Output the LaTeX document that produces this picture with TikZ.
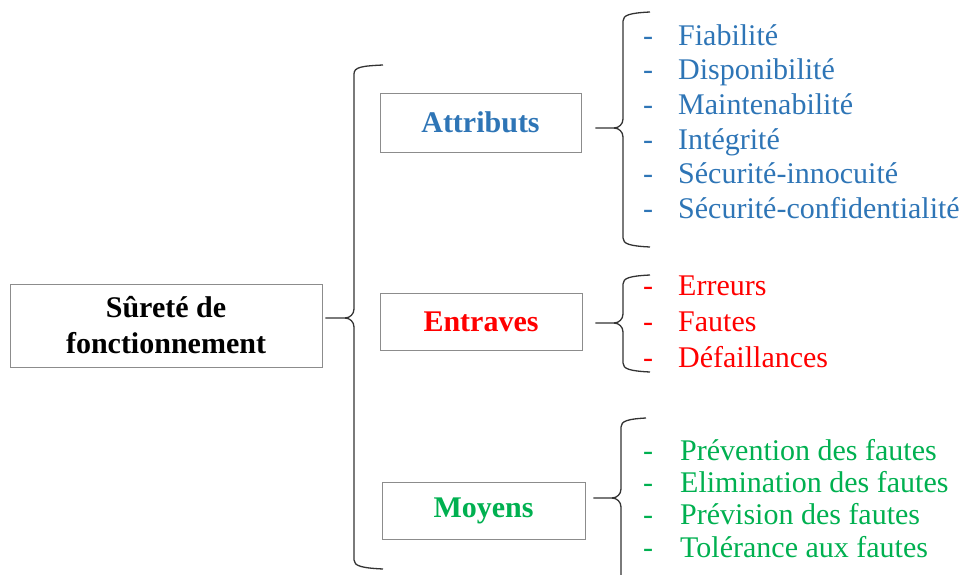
\documentclass[tikz,border=0pt]{standalone}
\usepackage{fontspec}
\setmainfont{Liberation Serif}
\usepackage{tikz}
\usetikzlibrary{matrix}
\definecolor{bleu}{HTML}{2E75B6}
\definecolor{rouge}{HTML}{FF0000}
\definecolor{vert}{HTML}{00B050}
\definecolor{cadre}{HTML}{8C8C8C}
\definecolor{trait}{HTML}{333333}

\begin{document}
\begin{tikzpicture}[x=1pt, y=1pt,
  boite/.style={draw=cadre, line width=0.8pt, inner sep=0pt, align=center, font=\bfseries\fontsize{30}{36}\selectfont},
  accol/.style={draw=trait, line width=1.3pt, line join=round},
  liste/.style={matrix of nodes, inner sep=0pt, column sep=25pt, anchor=north west,
    nodes={inner sep=0pt, text height=21pt, text depth=7pt, font=\fontsize{30}{36}\selectfont},
    column 2/.style={anchor=base west}}]
\useasboundingbox (0,0) rectangle (968,574);
\node[boite, minimum width=312pt, minimum height=83pt](racine) at (166,248.5){Sûreté de\\fonctionnement};
\node[boite, text=bleu, minimum width=201pt, minimum height=59pt](attr) at (480.5,451.5){Attributs};
\node[boite, text=rouge, minimum width=202pt, minimum height=57pt](entr) at (481,252.5){Entraves};
\node[boite, text=vert, minimum width=203pt, minimum height=57pt](moy) at (483.5,63.5){Moyens};
\matrix (lattr) [liste, nodes={text=bleu}, row sep=6.6pt] at (643,550){
- & Fiabilité \\
- & Disponibilité \\
- & Maintenabilité \\
- & Intégrité \\
- & Sécurité-innocuité \\
- & Sécurité-confidentialité \\
};
\matrix (lentr) [liste, nodes={text=rouge}, row sep=8pt] at (643,300){
- & Erreurs \\
- & Fautes \\
- & Défaillances \\
};
\matrix (lmoy) [liste, nodes={text=vert}, row sep=4.3pt, column sep=27pt] at (643,135){
- & Prévention des fautes \\
- & Elimination des fautes \\
- & Prévision des fautes \\
- & Tolérance aux fautes \\
};
\draw[accol] ([shift={(3,7.5)}]racine.east) -- (345,256) to[out=0,in=-90] (354,265) -- (354,500) .. controls (354,507) and (362,508) .. (383,509);
\draw[accol] (345,256) to[out=0,in=90] (354,247) -- (354,14) .. controls (354,8) and (362,6) .. (383,5);
\draw[accol] ([shift={(14,-5.5)}]attr.east) -- (614,446) to[out=0,in=-90] (623,455) -- (623,553) .. controls (623,559) and (630,561) .. (650,562);
\draw[accol] (614,446) to[out=0,in=90] (623,437) -- (623,336) .. controls (623,330) and (630,328) .. (650,327);
\draw[accol] ([shift={(13,-1.5)}]entr.east) -- (614,251) to[out=0,in=-90] (623,260) -- (623,290) .. controls (623,296) and (630,298) .. (650,299);
\draw[accol] (614,251) to[out=0,in=90] (623,242) -- (623,211) .. controls (623,205) and (630,203) .. (650,202);
\draw[accol] ([shift={(8,12.5)}]moy.east) -- (612,76) to[out=0,in=-90] (621,85) -- (621,147) .. controls (621,153) and (628,155) .. (646,156);
\draw[accol] (612,76) to[out=0,in=90] (621,67) -- (621,-5);
\end{tikzpicture}
\end{document}
